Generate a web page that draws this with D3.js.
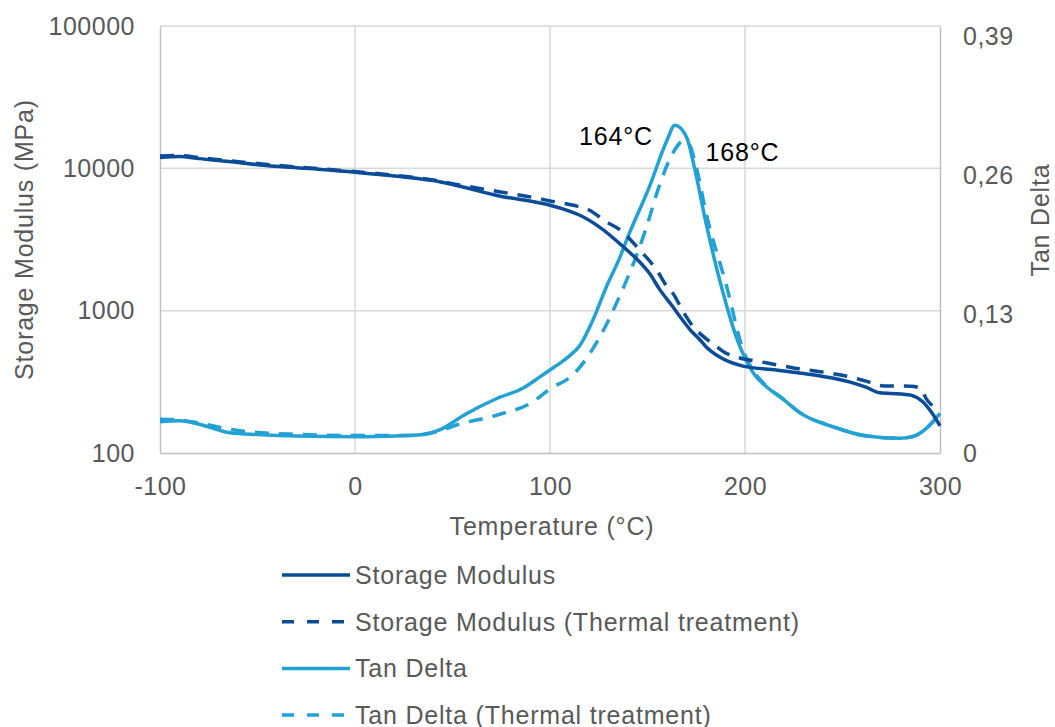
<!DOCTYPE html>
<html>
<head>
<meta charset="utf-8">
<script src="https://cdn.jsdelivr.net/npm/d3@7/dist/d3.min.js"></script>
<style>
  html, body { margin: 0; padding: 0; background: #fff; }
  svg { display: block; }
  text { font-family: "Liberation Sans", Arial, Helvetica, sans-serif; }
</style>
</head>
<body>
<svg id="chart" width="1055" height="727"></svg>
<script>
// ---------- data ----------
const xTicks = [-100, 0, 100, 200, 300];
const leftTicks = [100, 1000, 10000, 100000];
const rightTicks = [0, 0.13, 0.26, 0.39];
const rightTickLabels = ["0", "0,13", "0,26", "0,39"];

const smTemp = [-100, -90, -80, -60, -50, -25, 0, 23, 40, 50, 74, 95, 100, 110, 115, 125.6, 139, 145, 151, 156.4, 163, 166.7, 172, 177, 180, 187, 199, 216, 228, 240, 254, 262, 269, 280, 285, 291, 296, 300];
const smVal  = [11900, 12100, 11700, 11000, 10600, 10000, 9400, 8750, 8200, 7700, 6400, 5700, 5500, 5000, 4700, 3850, 2700, 2270, 1830, 1400, 1066, 907, 731, 622, 558, 472, 408, 383, 365, 345, 315, 290, 265, 260, 255, 230, 190, 155];

const smtTemp = [-100, -90, -80, -50, -25, 0, 25, 40, 50, 74, 95, 100, 112, 120, 129, 136, 146, 154.7, 160.5, 163, 168, 173.5, 178, 182, 185.5, 189, 197.4, 207.7, 217, 228, 240, 254, 262, 271, 285, 290, 293, 296];
const smtVal  = [12200, 12300, 11900, 10800, 10100, 9500, 8800, 8300, 7800, 6850, 6100, 5900, 5500, 5100, 4200, 3690, 2670, 1930, 1443, 1325, 1000, 771, 670, 605, 558, 515, 465, 438, 415, 390, 370, 342, 320, 296, 295, 285, 240, 215];

const tdTemp = [-100, -90, -80, -64, -50, -30, 4, 30, 44, 56, 73, 86, 95, 100, 105, 110, 115.4, 122, 129, 136, 140, 151, 160, 164, 170, 174, 180, 187, 197.4, 200, 205, 210, 220, 228, 245, 262.5, 279.5, 286, 293, 300];
const tdVal  = [0.0293, 0.0303, 0.027, 0.019, 0.0173, 0.0159, 0.0153, 0.0166, 0.0222, 0.0356, 0.0513, 0.0606, 0.0715, 0.0778, 0.084, 0.091, 0.101, 0.1246, 0.156, 0.184, 0.2027, 0.2495, 0.293, 0.307, 0.296, 0.268, 0.2155, 0.162, 0.0996, 0.089, 0.0731, 0.0637, 0.0497, 0.0378, 0.0246, 0.0159, 0.0138, 0.0153, 0.0231, 0.0372];

const tdtTemp = [-100, -90, -80, -60, -30, 0, 30, 44, 52, 73, 90, 101.7, 108, 113.7, 120.5, 127.4, 134, 140, 146, 149, 156, 163, 168, 171, 175, 180, 190.6, 199, 205, 210, 220, 228, 245, 262.5, 279.5, 286, 293, 300];
const tdtVal  = [0.0316, 0.031, 0.028, 0.021, 0.0175, 0.0164, 0.0164, 0.021, 0.0262, 0.0356, 0.0466, 0.062, 0.068, 0.077, 0.0934, 0.115, 0.140, 0.165, 0.193, 0.209, 0.250, 0.281, 0.2917, 0.290, 0.268, 0.225, 0.156, 0.0965, 0.075, 0.0645, 0.050, 0.038, 0.0248, 0.016, 0.0139, 0.0154, 0.0232, 0.0372];

const seriesNames = ["Storage Modulus", "Storage Modulus (Thermal treatment)", "Tan Delta", "Tan Delta (Thermal treatment)"];
const annotations = [{t: 164, v: 0.307, label: "164°C"}, {t: 168, v: 0.2917, label: "168°C"}];

// ---------- layout ----------
const DARK = "#0A4C97", LIGHT = "#22A1D5", TXT = "#595959", GRID = "#d9d9d9", AXIS = "#bfbfbf";
const FS = 25, LS = "0.8px";
const L = 160, R = 940, T = 26, B = 453;
const svg = d3.select("#chart");

const x = d3.scaleLinear().domain([-100, 300]).range([L, R]);
const yL = d3.scaleLog().domain([100, 100000]).range([B, T]);
const yR = d3.scaleLinear().domain([0, 0.4]).range([B, T]);

// grid
const grid = svg.append("g");
grid.selectAll("line.v").data(xTicks.slice(1, -1)).join("line")
  .attr("x1", d => x(d)).attr("x2", d => x(d)).attr("y1", T).attr("y2", B)
  .attr("stroke", GRID).attr("stroke-width", 1.5);
grid.selectAll("line.h").data(leftTicks.slice(1)).join("line")
  .attr("x1", L).attr("x2", R).attr("y1", d => yL(d)).attr("y2", d => yL(d))
  .attr("stroke", GRID).attr("stroke-width", 1.5);

// axes
const axB = svg.append("g").attr("transform", `translate(0,${B})`)
  .call(d3.axisBottom(x).tickValues(xTicks).tickSize(0).tickPadding(24).tickFormat(d => d < 0 ? "-" + Math.abs(d) : d));
const axL = svg.append("g").attr("transform", `translate(${L},0)`)
  .call(d3.axisLeft(yL).tickValues(leftTicks).tickSize(0).tickPadding(25).tickFormat(d3.format("d")));
const axR = svg.append("g").attr("transform", `translate(${R},0)`)
  .call(d3.axisRight(yR).tickValues(rightTicks).tickSize(0).tickPadding(23).tickFormat((d, i) => rightTickLabels[i]));
[axB, axL, axR].forEach(a => {
  a.select(".domain").attr("stroke", AXIS).attr("stroke-width", 1.5);
  a.selectAll("text").attr("fill", TXT).attr("font-size", FS).attr("letter-spacing", "0.5px")
   .attr("font-family", '"Liberation Sans", Arial, sans-serif');
});

// lines
svg.append("clipPath").attr("id", "clip").append("rect")
  .attr("x", L).attr("y", T - 10).attr("width", R - L + 4).attr("height", B - T + 10);
const plot = svg.append("g").attr("clip-path", "url(#clip)");
const lineL = d3.line().x(d => x(d[0])).y(d => yL(d[1])).curve(d3.curveMonotoneX);
const lineR = d3.line().x(d => x(d[0])).y(d => yR(d[1])).curve(d3.curveMonotoneX);
const zip = (a, b) => a.map((t, i) => [t, b[i]]);
const DASH = "14,10";

plot.append("path").attr("d", lineR(zip(tdtTemp, tdtVal))).attr("fill", "none")
  .attr("stroke", LIGHT).attr("stroke-width", 3.5).attr("stroke-dasharray", DASH);
plot.append("path").attr("d", lineR(zip(tdTemp, tdVal))).attr("fill", "none")
  .attr("stroke", LIGHT).attr("stroke-width", 3.5);
plot.append("path").attr("d", lineL(zip(smtTemp, smtVal))).attr("fill", "none")
  .attr("stroke", DARK).attr("stroke-width", 3.5).attr("stroke-dasharray", DASH);
plot.append("path").attr("d", lineL(zip(smTemp, smVal))).attr("fill", "none")
  .attr("stroke", DARK).attr("stroke-width", 3.5);

// annotations
svg.append("text").attr("x", x(annotations[0].t) - 22).attr("y", yR(annotations[0].v) + 20)
  .attr("text-anchor", "end").attr("font-size", FS).attr("letter-spacing", LS).attr("fill", "#000").text(annotations[0].label);
svg.append("text").attr("x", x(annotations[1].t) + 23).attr("y", yR(annotations[1].v) + 19.5)
  .attr("text-anchor", "start").attr("font-size", FS).attr("letter-spacing", LS).attr("fill", "#000").text(annotations[1].label);

// axis titles
svg.append("text").attr("x", (L + R) / 2 + 2).attr("y", 535).attr("text-anchor", "middle")
  .attr("font-size", FS).attr("letter-spacing", LS).attr("fill", TXT).text("Temperature (°C)");
svg.append("text").attr("transform", `translate(33,${(T + B) / 2}) rotate(-90)`).attr("text-anchor", "middle")
  .attr("font-size", FS).attr("letter-spacing", LS).attr("fill", TXT).text("Storage Modulus (MPa)");
svg.append("text").attr("transform", `translate(1049,220) rotate(-90)`).attr("text-anchor", "middle")
  .attr("font-size", FS).attr("letter-spacing", LS).attr("fill", TXT).text("Tan Delta");

// legend
const legStyles = [{c: DARK, d: null}, {c: DARK, d: DASH}, {c: LIGHT, d: null}, {c: LIGHT, d: DASH}];
const leg = svg.append("g");
seriesNames.forEach((name, i) => {
  const yy = 575 + i * 46.7;
  leg.append("line").attr("x1", 282).attr("x2", 350).attr("y1", yy).attr("y2", yy)
    .attr("stroke", legStyles[i].c).attr("stroke-width", 3.5)
    .attr("stroke-dasharray", legStyles[i].d ? "12,13" : null);
  leg.append("text").attr("x", 355).attr("y", yy + 9).attr("font-size", FS).attr("letter-spacing", LS)
    .attr("fill", TXT).text(name);
});
</script>
</body>
</html>
